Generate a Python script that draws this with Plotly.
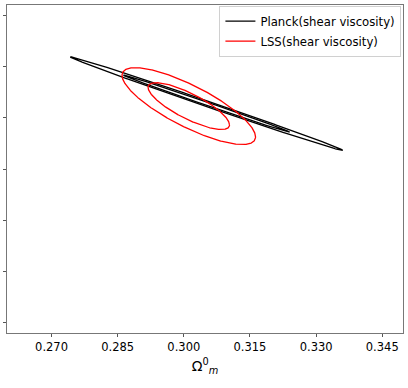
import numpy as np
import plotly.graph_objects as go

# Gaussian posteriors: mean, sigma, correlation
names = ['Planck(shear viscosity)', 'LSS(shear viscosity)']
colors = ['black', 'red']
mean_om = [0.30515, 0.30112]
mean_y = [0.81406, 0.81162]
sig_om = [0.01243, 0.00609]
sig_y = [0.01846, 0.01514]
rho = [-0.998, -0.80]
levels = [2.30, 6.18]  # 1 and 2 sigma for 2 parameters

xticks = [0.270, 0.285, 0.300, 0.315, 0.330, 0.345]
yticks = [0.60, 0.65, 0.70, 0.75, 0.80, 0.85, 0.90]

t = np.linspace(0, 2 * np.pi, 721)
fig = go.Figure()
for i in range(len(names)):
    cov = np.array([[sig_om[i] ** 2, rho[i] * sig_om[i] * sig_y[i]],
                    [rho[i] * sig_om[i] * sig_y[i], sig_y[i] ** 2]])
    L = np.linalg.cholesky(cov)
    for j, lv in enumerate(levels):
        pts = L @ np.vstack([np.cos(t), np.sin(t)]) * np.sqrt(lv)
        fig.add_trace(go.Scatter(x=mean_om[i] + pts[0], y=mean_y[i] + pts[1],
                                 mode='lines', line=dict(color=colors[i], width=1.3),
                                 name=names[i], legendgroup=names[i],
                                 showlegend=(j == 0)))

fig.update_layout(
    width=408, height=388,
    margin=dict(l=4, r=4, t=4, b=55),
    plot_bgcolor='white', paper_bgcolor='white',
    font=dict(family='DejaVu Sans', color='black', size=12),
    legend=dict(x=0.996, xanchor='right', y=0.998, yanchor='top',
                bordercolor='#d0d0d0', borderwidth=1, bgcolor='rgba(255,255,255,0.8)',
                font=dict(size=11.7), tracegroupgap=1, itemwidth=30),
)
fig.update_xaxes(range=[0.2599, 0.3497], tickvals=xticks,
                 ticktext=['%.3f' % v for v in xticks],
                 ticks='outside', ticklen=3, tickcolor='#555',
                 showgrid=False, zeroline=False, showline=True, mirror=True,
                 linecolor='#777', linewidth=1.2, tickfont=dict(size=11.5),
                 title=dict(text='Ω<sup>0</sup><sub><i>m</i></sub>', font=dict(size=14), standoff=8))
fig.update_yaxes(range=[0.5893, 0.9107], tickvals=yticks, showticklabels=False,
                 ticks='outside', ticklen=3, tickcolor='#555',
                 showgrid=False, zeroline=False, showline=True, mirror=True,
                 linecolor='#777', linewidth=1.2)

fig.write_html('out.html', config={'displayModeBar': False},
               post_script="document.body.style.margin='0';")
